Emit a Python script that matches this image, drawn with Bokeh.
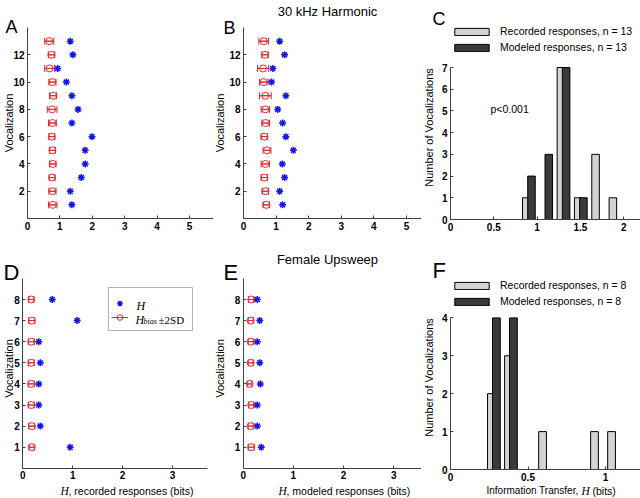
import math
from bokeh.plotting import figure
from bokeh.layouts import row, column
from bokeh.models import (Range1d, ColumnDataSource, Whisker, TeeHead, Legend,
                          LegendItem, Label, FixedTicker, BoxAnnotation)
from bokeh.embed import file_html
from bokeh.resources import INLINE
from bokeh.transform import dodge

# ---------------- data ----------------
voc13 = list(range(1, 14))
A_H = [1.37, 1.32, 1.66, 1.78, 1.78, 1.99, 1.37, 1.56, 1.37, 1.20, 0.93, 1.40, 1.32]
A_bias = [0.78, 0.77, 0.76, 0.78, 0.77, 0.75, 0.77, 0.76, 0.79, 0.77, 0.68, 0.74, 0.67]
A_sd2 = [0.13, 0.11, 0.09, 0.10, 0.09, 0.09, 0.12, 0.15, 0.11, 0.11, 0.15, 0.10, 0.14]

B_H = [1.20, 1.11, 1.26, 1.19, 1.53, 1.30, 1.20, 1.05, 1.30, 0.86, 0.90, 1.26, 1.11]
B_bias = [0.70, 0.67, 0.64, 0.67, 0.72, 0.64, 0.68, 0.67, 0.67, 0.62, 0.60, 0.66, 0.62]
B_sd2 = [0.10, 0.10, 0.10, 0.13, 0.12, 0.10, 0.12, 0.13, 0.18, 0.13, 0.17, 0.10, 0.15]

voc8 = list(range(1, 9))
D_H = [0.95, 0.35, 0.32, 0.32, 0.35, 0.32, 1.09, 0.59]
D_bias = [0.18, 0.18, 0.17, 0.17, 0.17, 0.17, 0.18, 0.17]
D_sd2 = [0.05, 0.06, 0.06, 0.06, 0.06, 0.06, 0.06, 0.05]

E_H = [0.36, 0.28, 0.28, 0.34, 0.33, 0.28, 0.33, 0.28]
E_bias = [0.16, 0.15, 0.16, 0.13, 0.15, 0.15, 0.15, 0.16]
E_sd2 = [0.06, 0.05, 0.05, 0.04, 0.05, 0.05, 0.05, 0.05]

C_bins = [0.905, 1.105, 1.305, 1.505, 1.705, 1.905]
C_rec = [1, 0, 7, 1, 3, 1]
C_mod = [2, 3, 7, 1, 0, 0]

F_bins = [0.28, 0.39, 0.61, 0.945, 1.055]
F_rec = [2, 3, 1, 1, 1]
F_mod = [4, 4, 0, 0, 0]

y_ticks_13 = [2, 4, 6, 8, 10, 12]
y_ticks_8 = [1, 2, 3, 4, 5, 6, 7, 8]
x_ticks_AB = [0, 1, 2, 3, 4, 5]
x_ticks_DE = [0, 1, 2, 3]
y_ticks_C = [0, 1, 2, 3, 4, 5, 6, 7]
y_ticks_F = [0, 1, 2, 3, 4]
x_ticks_C = [0, 0.5, 1, 1.5, 2]
x_ticks_F = [0, 0.5, 1]

# ---------------- style ----------------
SANS = "Liberation Sans"
SERIF = "Liberation Serif"
RED = "#e4282c"
BLUE = "#1414e6"
LIGHT = "#d4d4d4"
DARK = "#3a3a3a"
AX = "#404040"


class Panel:
    """canvas box on the page + linear mapping of the reference picture"""
    def __init__(self, L, T, R, B, r0x, ppux, r0y, ppuy):
        self.L, self.T, self.R, self.B = L, T, R, B
        self.r0x, self.ppux, self.r0y, self.ppuy = r0x, ppux, r0y, ppuy

    def dx(self, rx):
        return (rx - self.r0x) / self.ppux

    def dy(self, ry):
        return (self.r0y - ry) / self.ppuy

    def sx(self, rx):  # screen offset from canvas left
        return rx - self.L

    def sy(self, ry):  # screen offset from canvas bottom
        return self.B - ry


def make_fig(g, xb, yb, xticks, yticks):
    p = figure(width=g.R - g.L, height=g.B - g.T,
               x_range=Range1d(g.dx(g.L), g.dx(g.R)), y_range=Range1d(g.dy(g.B), g.dy(g.T)),
               min_border=0, toolbar_location=None, output_backend="svg")
    p.outline_line_color = None
    p.grid.visible = False
    p.background_fill_color = "white"
    p.border_fill_color = "white"
    p.xaxis.fixed_location = 0
    p.yaxis.fixed_location = 0
    p.xaxis.bounds = (0, xb)
    p.yaxis.bounds = (0, yb)
    p.xaxis.ticker = FixedTicker(ticks=xticks)
    p.yaxis.ticker = FixedTicker(ticks=yticks)
    for ax in p.axis:
        ax.axis_line_color = AX
        ax.major_tick_line_color = AX
        ax.minor_tick_line_color = None
        ax.major_tick_in = 3
        ax.major_tick_out = 0
        ax.major_label_text_font = SANS
        ax.major_label_text_font_style = "bold"
        ax.major_label_text_font_size = "10px"
        ax.major_label_text_color = "black"
        ax.major_label_standoff = 3
    return p


def text(p, g, s, rx, ry, size, align="left", font=SANS, style="normal",
         baseline="alphabetic", angle=0.0):
    p.add_layout(Label(x=g.dx(rx), y=g.dy(ry), text=s, text_font=font,
                       text_font_size=size, text_align=align, text_baseline=baseline,
                       text_font_style=style, text_color="black", angle=angle))


def entropy_panel(g, xb, yb, voc, H, bias, sd2, yticks, xticks):
    p = make_fig(g, xb, yb, xticks, yticks)
    lo = [b - s for b, s in zip(bias, sd2)]
    hi = [b + s for b, s in zip(bias, sd2)]
    src = ColumnDataSource(dict(voc=voc, H=H, bias=bias, lo=lo, hi=hi))
    p.add_layout(Whisker(source=src, base="voc", lower="lo", upper="hi", dimension="width",
                         line_color=RED, line_width=1,
                         upper_head=TeeHead(size=7, line_color=RED, line_width=1),
                         lower_head=TeeHead(size=7, line_color=RED, line_width=1)))
    seg = p.segment(x0="lo", x1="hi", y0="voc", y1="voc", source=src,
                    line_color=RED, line_width=1)
    circ = p.scatter(x="bias", y="voc", source=src, marker="circle", size=7,
                     line_color=RED, fill_color=None, line_width=1)
    ast = p.scatter(x="H", y="voc", source=src, marker="asterisk", size=7,
                    line_color=BLUE, line_width=1.5)
    return p, seg, circ, ast


def hist_panel(g, xb, yb, bins, rec, mod, off, width, yticks, xticks, n, leg_bottom_ry):
    p = make_fig(g, xb, yb, xticks, yticks)
    src = ColumnDataSource(dict(bin=bins, rec=rec, mod=mod))
    r1 = p.vbar(x=dodge("bin", -off, range=p.x_range), top="rec", width=width, source=src,
                fill_color=LIGHT, line_color="black", line_width=1)
    r2 = p.vbar(x=dodge("bin", off, range=p.x_range), top="mod", width=width, source=src,
                fill_color=DARK, line_color="black", line_width=1)
    leg = Legend(items=[LegendItem(label="Recorded responses, n = %d" % n, renderers=[r1]),
                        LegendItem(label="Modeled responses, n = %d" % n, renderers=[r2])],
                 location=(g.sx(450), g.sy(leg_bottom_ry)), glyph_width=43, glyph_height=9,
                 label_height=9, label_standoff=7, spacing=4, padding=0, margin=0,
                 border_line_color=None, background_fill_alpha=0,
                 label_text_font=SANS, label_text_font_size="10.5px",
                 label_text_color="black")
    p.add_layout(leg)
    return p


# ---------------- panels (page boxes + reference mappings) ----------------
gA = Panel(0, 0, 213, 245, 27.0, 32.4, 218.0, 13.64)
gB = Panel(213, 0, 421, 245, 243.0, 32.6, 218.0, 13.64)
gC = Panel(421, 0, 640, 245, 450.0, 86.6, 219.0, 21.71)
gD = Panel(0, 245, 213, 498, 22.3, 49.9, 467.8, 21.1)
gE = Panel(213, 245, 421, 498, 242.7, 50.2, 467.8, 21.1)
gF = Panel(421, 245, 640, 498, 450.0, 155.0, 469.0, 37.9)

pA, _, _, _ = entropy_panel(gA, 5.74, 14, voc13, A_H, A_bias, A_sd2, y_ticks_13, x_ticks_AB)
pB, _, _, _ = entropy_panel(gB, 5.45, 14, voc13, B_H, B_bias, B_sd2, y_ticks_13, x_ticks_AB)
pD, segD, circD, astD = entropy_panel(gD, 3.7, 9, voc8, D_H, D_bias, D_sd2, y_ticks_8, x_ticks_DE)
pE, _, _, _ = entropy_panel(gE, 3.58, 9, voc8, E_H, E_bias, E_sd2, y_ticks_8, x_ticks_DE)

pC = hist_panel(gC, 2.19, 7, C_bins, C_rec, C_mod, 0.03, 0.087, y_ticks_C, x_ticks_C, 13, 53)
pF = hist_panel(gF, 1.226, 4, F_bins, F_rec, F_mod, 0.016, 0.05, y_ticks_F, x_ticks_F, 8, 307)

# legend of D: framed box, sample glyphs from the renderers, texts as labels
pD.add_layout(BoxAnnotation(left=gD.dx(108), right=gD.dx(192), top=gD.dy(287),
                            bottom=gD.dy(330), fill_color="white", fill_alpha=1,
                            line_color="black", line_width=1))
pD.add_layout(Legend(items=[LegendItem(label=" ", renderers=[astD]),
                            LegendItem(label=" ", renderers=[segD, circD])],
                     location=(gD.sx(111), gD.sy(324)), glyph_width=17, glyph_height=14,
                     label_height=14, label_standoff=2, spacing=0, padding=2, margin=0,
                     border_line_color=None, background_fill_alpha=0,
                     label_text_font_size="10px"))
text(pD, gD, "H", 136, 305, "12px", font=SERIF, style="italic")
text(pD, gD, "H", 135, 319, "12px", font=SERIF, style="italic")
text(pD, gD, "bias", 143, 321, "8px", font=SERIF, style="italic")
text(pD, gD, "\u00b12SD", 158, 319, "11px", font=SERIF)

# panel letters and titles
text(pA, gA, "A", 5, 26, "18px")
text(pB, gB, "B", 223, 27, "18px")
text(pC, gC, "C", 432, 18, "18px")
text(pD, gD, "D", 3, 272, "22px")
text(pE, gE, "E", 223, 272, "22px")
text(pF, gF, "F", 432, 270, "22px")
text(pB, gB, "30 kHz Harmonic", 327, 11, "13px", align="center")
text(pE, gE, "Female Upsweep", 327, 259, "13px", align="center")
text(pC, gC, "p<0.001", 490, 108, "10.5px", baseline="middle")

# axis titles
V = math.pi / 2
text(pA, gA, "Vocalization", 8, 122.5, "11px", align="center", baseline="middle", angle=V)
text(pB, gB, "Vocalization", 219, 122.5, "11px", align="center", baseline="middle", angle=V)
text(pD, gD, "Vocalization", 8, 368, "11px", align="center", baseline="middle", angle=V)
text(pE, gE, "Vocalization", 219, 368, "11px", align="center", baseline="middle", angle=V)
text(pC, gC, "Number of Vocalizations", 428, 127, "11px", align="center", baseline="middle", angle=V)
text(pF, gF, "Number of Vocalizations", 428, 377, "11px", align="center", baseline="middle", angle=V)

XL = 490
text(pD, gD, "H", 60, XL, "11.5px", font=SERIF, style="italic")
text(pD, gD, ", recorded responses (bits)", 68, XL, "10.5px")
text(pE, gE, "H", 278, XL, "11.5px", font=SERIF, style="italic")
text(pE, gE, ", modeled responses (bits)", 286, XL, "10.5px")
text(pF, gF, "Information Transfer,", 486, XL, "10px")
text(pF, gF, "H", 581, XL, "11.5px", font=SERIF, style="italic")
text(pF, gF, "(bits)", 592, XL, "10.5px")

layout = column(row(pA, pB, pC), row(pD, pE, pF))
open("out.html", "w").write(file_html(layout, INLINE))
